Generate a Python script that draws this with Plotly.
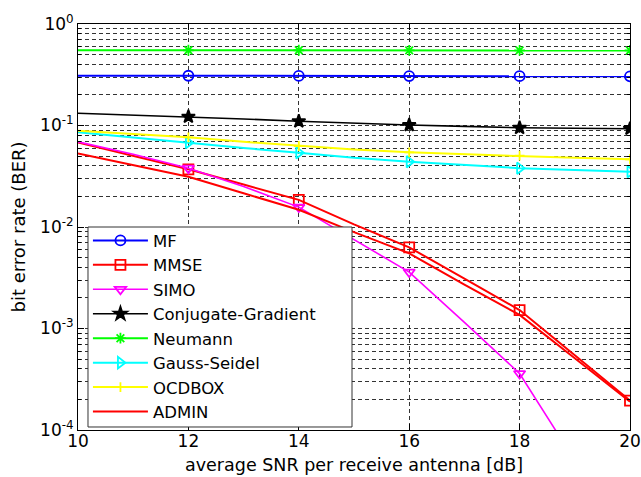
import plotly.graph_objects as go

# ---- data ----
snr = [10, 11, 12, 13, 14, 15, 16, 17, 18, 19, 20]
marker_snr = [12, 14, 16, 18, 20]

ber_mf = [0.310, 0.310, 0.309, 0.309, 0.308, 0.308, 0.307, 0.307, 0.306, 0.306, 0.305]
ber_mmse = [0.068, 0.050, 0.037, 0.0262, 0.0185, 0.0106, 0.0063, 0.0031, 0.00152, 0.000545, 0.000195]
ber_simo = [0.069, 0.052, 0.038, 0.025, 0.0157, 0.0075, 0.0036, 0.00115, 0.00036, 0.00005, 0.000007]
ber_cg = [0.132, 0.127, 0.122, 0.116, 0.110, 0.105, 0.101, 0.098, 0.095, 0.094, 0.093]
ber_neumann = [0.552, 0.552, 0.551, 0.551, 0.551, 0.550, 0.550, 0.550, 0.550, 0.549, 0.549]
ber_gs = [0.0857, 0.076, 0.0678, 0.060, 0.054, 0.048, 0.044, 0.041, 0.038, 0.0365, 0.035]
ber_ocdbox = [0.089, 0.082, 0.0764, 0.069, 0.0628, 0.058, 0.0544, 0.052, 0.0505, 0.048, 0.0465]
ber_admin = [0.053, 0.0407, 0.0313, 0.0215, 0.0148, 0.0089, 0.0055, 0.0027, 0.00136, 0.00051, 0.00019]

series = [
    ("MF", ber_mf, "#0000FF", "circle-open", 10, 2),
    ("MMSE", ber_mmse, "#FF0000", "square-open", 10, 2),
    ("SIMO", ber_simo, "#FF00FF", "triangle-down-open", 10, 1.6),
    ("Conjugate-Gradient", ber_cg, "#000000", "star", 10, 1.6),
    ("Neumann", ber_neumann, "#00FF00", "asterisk-open", 9, 2),
    ("Gauss-Seidel", ber_gs, "#00FFFF", "triangle-right-open", 10, 2),
    ("OCDBOX", ber_ocdbox, "#FFFF00", "cross-thin-open", 7, 2),
    ("ADMIN", ber_admin, "#FF0000", None, 0, 2),
]

FONT = "DejaVu Sans, Liberation Sans, Arial, sans-serif"

marked_idx = [i for i, s in enumerate(snr) if s in marker_snr]

fig = go.Figure()
for name, vals, color, sym, msize, lw in series:
    if sym:
        fig.add_trace(go.Scatter(
            x=snr, y=vals, name=name, mode="lines+markers",
            line=dict(color=color, width=lw),
            marker=dict(symbol=sym, size=msize, color=color,
                        line=dict(color=color, width=1.8)),
            selectedpoints=marked_idx,
            selected=dict(marker=dict(opacity=1)),
            unselected=dict(marker=dict(opacity=0)),
        ))
    else:
        fig.add_trace(go.Scatter(
            x=snr, y=vals, name=name, mode="lines",
            line=dict(color=color, width=lw),
        ))

major_y = [1e-4, 1e-3, 1e-2, 1e-1, 1]
major_y_text = ["10<sup>-4</sup>", "10<sup>-3</sup>", "10<sup>-2</sup>", "10<sup>-1</sup>", "10<sup>0</sup>"]
minor_y = [k * 10 ** e for e in range(-4, 0) for k in range(2, 10)]

grid_dash = "4px,3px"
grid_color = "#333333"

# legend box (white panel with border, covering the plot like MATLAB's legend)
fig.add_shape(type="rect", xref="paper", yref="paper",
              x0=0.0181, x1=0.4964, y0=0.0074, y1=0.5,
              fillcolor="white", line=dict(color="#333333", width=1), layer="above")

fig.update_layout(
    width=641, height=477,
    margin=dict(l=78, r=11, t=24, b=47),
    paper_bgcolor="white", plot_bgcolor="white",
    font=dict(family=FONT, size=17, color="black"),
    showlegend=True,
    legend=dict(
        x=0.018, y=0.002, xanchor="left", yanchor="bottom",
        bgcolor="rgba(0,0,0,0)", borderwidth=0,
        font=dict(family=FONT, size=16.5, color="black"),
        itemwidth=55,
    ),
    xaxis=dict(
        range=[10, 20], tickvals=[10, 12, 14, 16, 18, 20],
        ticks="inside", ticklen=6, tickcolor="black",
        showline=True, linecolor="black", linewidth=1, mirror="ticks",
        showgrid=True, gridcolor=grid_color, griddash=grid_dash, gridwidth=1,
        zeroline=False, automargin=False,
        tickfont=dict(family=FONT, size=17), ticklabelstandoff=-4,
        title=dict(text="average SNR per receive antenna [dB]", font=dict(family=FONT, size=17.5), standoff=8),
    ),
    yaxis=dict(
        type="log", range=[-4, 0],
        tickvals=major_y, ticktext=major_y_text,
        ticks="inside", ticklen=6, tickcolor="black",
        showline=True, linecolor="black", linewidth=1, mirror="ticks",
        showgrid=True, gridcolor=grid_color, griddash=grid_dash, gridwidth=1,
        zeroline=False, automargin=False,
        tickfont=dict(family=FONT, size=17),
        minor=dict(tickvals=minor_y, ticks="inside", ticklen=3, tickcolor="black",
                   showgrid=True, gridcolor=grid_color, griddash=grid_dash, gridwidth=1),
        title=dict(text="bit error rate (BER)", font=dict(family=FONT, size=18), standoff=9),
    ),
)

fig.write_html("out.html")
